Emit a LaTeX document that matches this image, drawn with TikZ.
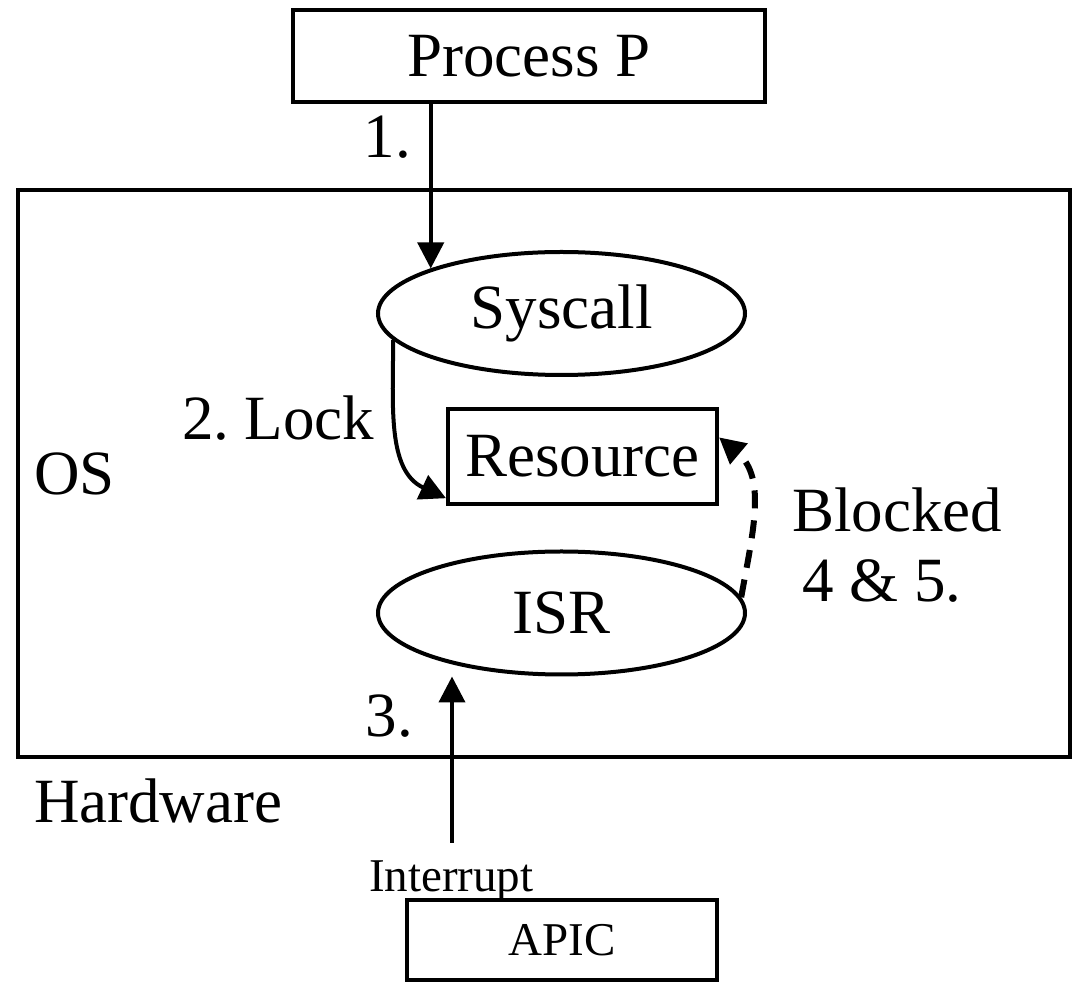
\documentclass[tikz,border=0pt]{standalone}
\usepackage{fontspec}
\setmainfont{Liberation Serif}
\usetikzlibrary{shapes.geometric,arrows.meta}
\begin{document}
\begin{tikzpicture}[x=0.5pt, y=0.5pt, line width=2pt,
    box/.style={draw, rectangle, inner sep=0pt},
    oval/.style={draw, ellipse, inner sep=0pt, minimum width=183.5pt, minimum height=61.5pt},
    big/.style={font=\fontsize{31.5}{36}\selectfont},
    small/.style={font=\fontsize{23.5}{28}\selectfont},
    lbl/.style={big, inner sep=0pt},
    arr/.style={-{Triangle[length=13pt,width=13pt]}},
    blk/.style={arr, line width=3pt, dash pattern=on 9pt off 6pt}]
    \useasboundingbox (0,0) rectangle (1073,-983);
    \node[box, big, minimum width=236pt, minimum height=46pt] (proc) at (529,-56) {Process P};
    \node[box, minimum width=526pt, minimum height=283.5pt] (os) at (544,-473.5) {};
    \node[oval, big] (sys) at (561.5,-313.5) {Syscall};
    \node[box, big, minimum width=134.5pt, minimum height=47.5pt] (res) at (582.5,-456.5) {Resource};
    \node[oval, big] (isr) at (561.5,-613) {ISR};
    \node[box, small, minimum width=155pt, minimum height=40pt] (apic) at (562,-940) {APIC};
    \coordinate (irq) at (452,-843);
    \node[lbl, anchor=base east] (l1) at (413,-158) {1.};
    \node[lbl, anchor=base west] (l2) at (180,-440) {2.\ Lock};
    \node[lbl, anchor=base west] (los) at (32,-495) {OS};
    \node[lbl, anchor=base west] (lhw) at (32,-823) {Hardware};
    \node[lbl, anchor=base east] (l3) at (415,-737) {3.};
    \node[small, inner sep=0pt, anchor=base west] (lirq) at (367,-892) {Interrupt};
    \node[lbl, anchor=base west] (lblk) at (790,-532) {Blocked};
    \node[lbl, anchor=base west] (l45) at (800,-602) {4 \& 5.};
    \draw[arr] (proc.south -| sys.161) -- (sys.161);
    \draw[arr] (sys.189) to[out=-90, in=155] (res.197);
    \draw[arr] (irq) -- (irq |- isr.south);
    \draw[blk] (isr.5) to[out=80, in=-40] (res.8);
\end{tikzpicture}
\end{document}
